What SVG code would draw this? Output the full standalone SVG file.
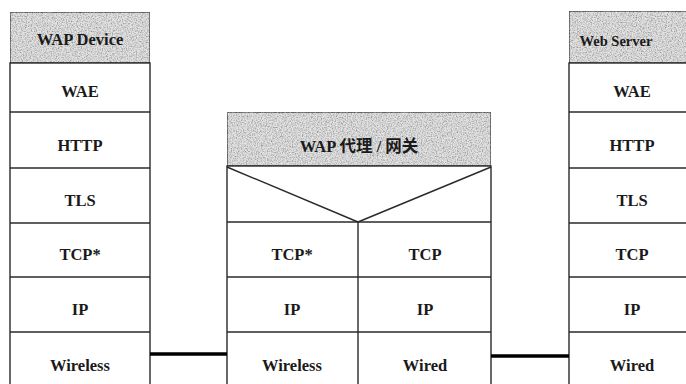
<svg xmlns="http://www.w3.org/2000/svg" width="686" height="384" viewBox="0 0 686 384">
<style>
.box{fill:#fff;stroke:#2a2a2a;stroke-width:1.4}
.hdr{fill:#e2e2e2;stroke:#2a2a2a;stroke-width:1.4}
.ln{stroke:#2a2a2a;stroke-width:1.4;fill:none}
.t{font-family:"Liberation Serif","Noto Sans CJK SC",serif;font-size:16.5px;font-weight:bold;fill:#1a1a1a;text-anchor:middle}
.s{font-size:14.5px}
.link{stroke:#000;stroke-width:3.5}
</style>
<defs>
<filter id="noise" x="0" y="0" width="100%" height="100%">
<feTurbulence type="fractalNoise" baseFrequency="0.8" numOctaves="2" seed="3" result="n"/>
<feColorMatrix in="n" type="matrix" values="0 0 0 0 0.3  0 0 0 0 0.3  0 0 0 0 0.3  2.2 0 0 0 -0.85" result="dots"/>
<feComposite in="dots" in2="SourceGraphic" operator="in" result="d2"/>
<feMerge><feMergeNode in="SourceGraphic"/><feMergeNode in="d2"/></feMerge>
</filter>
</defs>
<g id="wap-device">
<rect class="hdr" x="10" y="12" width="140" height="51" filter="url(#noise)"/>
<rect class="box" x="10" y="63" width="140" height="330" fill="none"/>
<line class="ln" x1="10" y1="112" x2="150" y2="112"/>
<line class="ln" x1="10" y1="168" x2="150" y2="168"/>
<line class="ln" x1="10" y1="223" x2="150" y2="223"/>
<line class="ln" x1="10" y1="277" x2="150" y2="277"/>
<line class="ln" x1="10" y1="332" x2="150" y2="332"/>
<text class="t" x="80" y="45">WAP Device</text>
<text class="t" x="80" y="97">WAE</text>
<text class="t" x="80" y="151">HTTP</text>
<text class="t" x="80" y="206">TLS</text>
<text class="t" x="80" y="260">TCP*</text>
<text class="t" x="80" y="315">IP</text>
<text class="t" x="80" y="371">Wireless</text>
</g>
<g id="wap-gateway">
<rect class="hdr" x="227" y="112" width="264" height="54" filter="url(#noise)"/>
<rect class="box" x="227" y="166" width="264" height="230"/>
<line class="ln" x1="227" y1="167" x2="358" y2="222"/>
<line class="ln" x1="491" y1="167" x2="358" y2="222"/>
<line class="ln" x1="358" y1="222" x2="358" y2="396"/>
<line class="ln" x1="227" y1="222" x2="491" y2="222"/>
<line class="ln" x1="227" y1="277" x2="491" y2="277"/>
<line class="ln" x1="227" y1="332" x2="491" y2="332"/>
<text class="t" x="359" y="152">WAP 代理 / 网关</text>
<text class="t" x="292" y="260">TCP*</text>
<text class="t" x="425" y="260">TCP</text>
<text class="t" x="292" y="315">IP</text>
<text class="t" x="425" y="315">IP</text>
<text class="t" x="292" y="371">Wireless</text>
<text class="t" x="425" y="371">Wired</text>
</g>
<g id="web-server">
<rect class="hdr" x="569" y="11" width="140" height="52" filter="url(#noise)"/>
<rect class="box" x="569" y="63" width="140" height="330"/>
<line class="ln" x1="569" y1="112" x2="709" y2="112"/>
<line class="ln" x1="569" y1="168" x2="709" y2="168"/>
<line class="ln" x1="569" y1="223" x2="709" y2="223"/>
<line class="ln" x1="569" y1="277" x2="709" y2="277"/>
<line class="ln" x1="569" y1="332" x2="709" y2="332"/>
<text class="t s" x="616" y="46">Web Server</text>
<text class="t" x="632" y="97">WAE</text>
<text class="t" x="632" y="151">HTTP</text>
<text class="t" x="632" y="206">TLS</text>
<text class="t" x="632" y="260">TCP</text>
<text class="t" x="632" y="315">IP</text>
<text class="t" x="632" y="371">Wired</text>
</g>
<g id="connectors">
<line class="link" x1="150" y1="354" x2="227" y2="354"/>
<line class="link" x1="491" y1="356" x2="569" y2="356"/>
</g>
</svg>
